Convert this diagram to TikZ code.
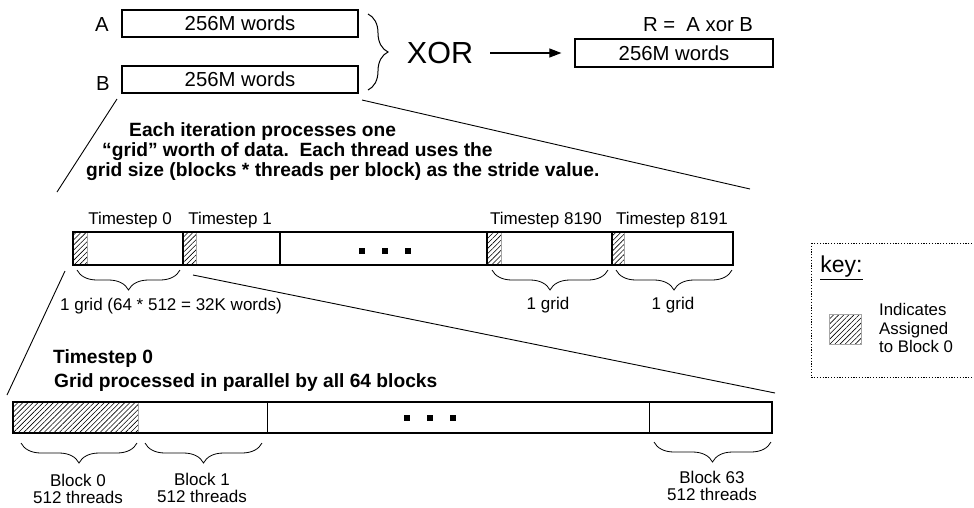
\documentclass[tikz,border=0pt]{standalone}
\usepackage{fontspec}
\setmainfont{Liberation Sans}
\usetikzlibrary{decorations.pathreplacing,patterns.meta,arrows.meta}
\begin{document}
\begin{tikzpicture}[x=1pt,y=-1pt,
  lbl/.style={font=\fontsize{17}{18}\selectfont, inner sep=0},
  blklbl/.style={font=\fontsize{17}{17}\selectfont, inner sep=0, align=center},
  big/.style={font=\fontsize{20.3}{22}\selectfont, inner sep=0},
  bold/.style={font=\fontsize{19.2}{20}\selectfont\bfseries, inner sep=0, anchor=base west},
  wbox/.style={draw, line width=1.3pt, minimum height=27pt, inner sep=0, font=\fontsize{20.3}{22}\selectfont},
  hatch/.style={pattern={Lines[angle=45,distance=3.6pt,line width=0.6pt]}},
  hatchedge/.style={draw=gray!70, line width=0.8pt},
  conn/.style={line width=0.9pt},
  thickdiv/.style={line width=2pt},
  thindiv/.style={line width=0.8pt},
  brcdown/.style={decorate, decoration={brace, mirror, amplitude=20pt}, line width=0.8pt},
  brcright/.style={decorate, decoration={brace, amplitude=20pt}, line width=1pt},
  sq/.style={fill, minimum size=6pt, inner sep=0}
]
\useasboundingbox (0,0) rectangle (974,507);
\clip (0,0) rectangle (974,507);

% ---- top level ----
\node[wbox, minimum width=236pt] (boxA) at (240,23.5) {256M words};
\node[wbox, minimum width=236pt] (boxB) at (240,79.5) {256M words};
\node[big] (labA) at (102,25) {A};
\node[big] (labB) at (103,84) {B};
\draw[brcright] (368,14) -- (368,90);
\node[font=\fontsize{30.5}{32}\selectfont, inner sep=0] (xor) at (440,53) {XOR};
\node[wbox, minimum width=198pt, minimum height=28pt] (boxR) at (674,53) {256M words};
\node[big] (labR) at (698,25) {R =\ \ A xor B};
\draw[-{Triangle[length=12pt,width=9pt]}, line width=1.2pt] ([xshift=17pt]xor.east) -- ([xshift=-13pt]boxR.west);

% ---- zoom connectors level 1 ----
\coordinate (c1a) at (117,99);
\coordinate (c1b) at (57,192);
\coordinate (c2a) at (362,100);
\coordinate (c2b) at (750,189);
\draw[conn] (c1a) -- (c1b);
\draw[conn] (c2a) -- (c2b);

\node[bold] (t1) at (129,136) {Each iteration processes one};
\node[bold] (t2) at (102,156) {“grid” worth of data.\ \ Each thread uses the};
\node[bold] (t3) at (86,176) {grid size (blocks * threads per block) as the stride value.};

% ---- timestep row ----
\path[hatch] (73,232) rectangle (87,265);
\path[hatch] (183,232) rectangle (196,265);
\path[hatch] (487,232) rectangle (501,265);
\path[hatch] (612,232) rectangle (624,265);
\draw[hatchedge] (87,232) -- (87,265);
\draw[hatchedge] (196,232) -- (196,265);
\draw[hatchedge] (501,232) -- (501,265);
\draw[hatchedge] (624,232) -- (624,265);
\node[draw, line width=2pt, minimum width=660pt, minimum height=33pt, inner sep=0] (ts) at (403,248.5) {};
\draw[thickdiv] (183,232) -- (183,265);
\draw[thickdiv] (280,232) -- (280,265);
\draw[thickdiv] (487,232) -- (487,265);
\draw[thickdiv] (612,232) -- (612,265);
\node[sq] (d1) at (362,251) {};
\node[sq] (d2) at (385,251) {};
\node[sq] (d3) at (408,251) {};

\node[lbl] (ts0) at (130,220) {Timestep 0};
\node[lbl] (ts1) at (230,220) {Timestep 1};
\node[lbl] (ts8190) at (546,220) {Timestep 8190};
\node[lbl] (ts8191) at (672,220) {Timestep 8191};

\draw[brcdown] (77,270) -- (180,270);
\draw[brcdown] (492,270) -- (608,270);
\draw[brcdown] (616,270) -- (732,270);
\node[lbl] (g0) at (171,306) {1 grid (64 * 512 = 32K words)};
\node[lbl] (g1) at (548,305) {1 grid};
\node[lbl] (g2) at (673,305) {1 grid};

% ---- zoom connectors level 2 ----
\coordinate (c3a) at (65,271);
\coordinate (c3b) at (7,395);
\coordinate (c4a) at (193,275);
\coordinate (c4b) at (775,393);
\draw[conn] (c3a) -- (c3b);
\draw[conn] (c4a) -- (c4b);

\node[bold] (b1) at (53,363) {Timestep 0};
\node[bold] (b2) at (54,387) {Grid processed in parallel by all 64 blocks};

% ---- block row ----
\path[hatch] (13,402) rectangle (138,433);
\draw[hatchedge] (138,402) -- (138,433);
\node[draw, line width=2pt, minimum width=759pt, minimum height=31pt, inner sep=0] (blk) at (392.5,417.5) {};
\draw[thindiv] (267,402) -- (267,433);
\draw[thindiv] (649,402) -- (649,433);
\node[sq] (e1) at (407,418) {};
\node[sq] (e2) at (430,418) {};
\node[sq] (e3) at (453,418) {};

\draw[brcdown] (21,443) -- (137,443);
\draw[brcdown] (145,443) -- (262,443);
\draw[brcdown] (654,442) -- (771,442);
\node[blklbl] (bl0) at (78,489) {Block 0\\512 threads};
\node[blklbl] (bl1) at (202,488) {Block 1\\512 threads};
\node[blklbl] (bl63) at (712,486) {Block 63\\512 threads};

% ---- key ----
\draw[line width=1pt, dash pattern=on 1.2pt off 1.6pt] (811,243) rectangle (990,377);
\node[font=\fontsize{23}{25}\selectfont, inner sep=0] (key) at (841.5,268) {\underline{key:}};
\path[hatch] (829,314) rectangle (861,344);
\draw[hatchedge] (829,314) rectangle (861,344);
\node[font=\fontsize{16.8}{18.5}\selectfont, inner sep=0, align=left, anchor=west] (keytxt) at (879,328) {Indicates\\Assigned\\to Block 0};
\end{tikzpicture}
\end{document}
